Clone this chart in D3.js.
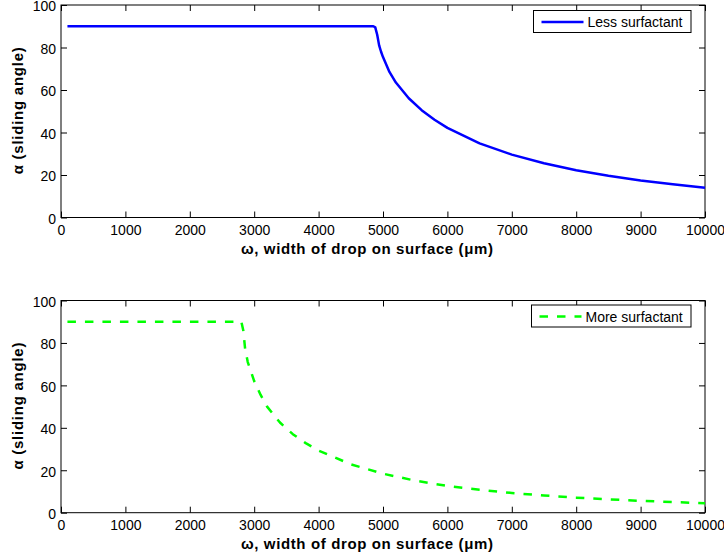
<!DOCTYPE html>
<html>
<head>
<meta charset="utf-8">
<script src="https://cdn.jsdelivr.net/npm/d3@7"></script>
<style>
  html, body { margin: 0; padding: 0; background: #fff; }
  svg { display: block; }
  text { font-family: Arial, "Liberation Sans", Helvetica, sans-serif; fill: #000; }
</style>
</head>
<body>
<svg id="chart" width="724" height="556"></svg>
<script>
// Drop width on the surface (µm) and the resulting sliding angle (degrees)
const lessWidth = [100, 4850, 4880, 4910, 4940, 4970, 5000, 5100, 5200, 5400, 5600, 5800, 6000, 6500, 7000, 7500, 8000, 8500, 9000, 9500, 10000];
const lessAngle = [90, 90, 89.5, 86, 81, 78, 75.5, 68.5, 63.5, 56.1, 50.5, 46.0, 42.2, 34.9, 29.6, 25.5, 22.2, 19.6, 17.4, 15.6, 14.0];

const moreWidth = [100, 2800, 2830, 2860, 2900, 3000, 3100, 3200, 3400, 3600, 3800, 4000, 4500, 5000, 5500, 6000, 6500, 7000, 7500, 8000, 8500, 9000, 9500, 10000];
const moreAngle = [90, 90, 86, 77, 71, 62, 55.5, 50, 42.5, 37, 32.8, 29.3, 22.8, 18.4, 15.1, 12.6, 10.8, 9.3, 8.1, 7.1, 6.3, 5.6, 5.0, 4.5];

const xTicks = [0, 1000, 2000, 3000, 4000, 5000, 6000, 7000, 8000, 9000, 10000];
const yTicks = [0, 20, 40, 60, 80, 100];

const xLabel = "ω, width of drop on surface (μm)";
const yLabel = "α (sliding angle)";

const svg = d3.select("#chart");

function panel(cfg) {
  const x = d3.scaleLinear().domain([0, 10000]).range([61, 705]);
  const y = d3.scaleLinear().domain([0, 100]).range([cfg.bottom, cfg.top]);
  const g = svg.append("g");

  // box frame
  g.append("rect")
    .attr("x", x(0)).attr("y", y(100))
    .attr("width", x(10000) - x(0)).attr("height", y(0) - y(100))
    .attr("fill", "none").attr("stroke", "#000").attr("stroke-width", 1);

  const axisStyle = sel => {
    sel.select(".domain").remove();
    sel.selectAll(".tick line").attr("stroke", "#000").attr("stroke-width", 1);
    sel.selectAll("text").attr("font-size", "14px").attr("fill", "#000").attr("font-family", "Arial, 'Liberation Sans', sans-serif");
  };

  g.append("g").attr("transform", `translate(0,${y(0)})`)
    .call(d3.axisBottom(x).tickValues(xTicks).tickSize(-6).tickPadding(7.5).tickFormat(d3.format("d")))
    .call(axisStyle);
  g.append("g").attr("transform", `translate(0,${y(100)})`)
    .call(d3.axisTop(x).tickValues(xTicks).tickSize(-6).tickFormat(""))
    .call(axisStyle);
  g.append("g").attr("transform", `translate(${x(0)},0)`)
    .call(d3.axisLeft(y).tickValues(yTicks).tickSize(-6).tickPadding(5).tickFormat(d3.format("d")))
    .call(axisStyle)
    .call(sel => sel.selectAll("text").attr("dy", "0.42em"));
  g.append("g").attr("transform", `translate(${x(10000)},0)`)
    .call(d3.axisRight(y).tickValues(yTicks).tickSize(-6).tickFormat(""))
    .call(axisStyle);

  // curve
  const line = d3.line().x(d => x(d[0])).y(d => y(d[1]));
  g.append("path")
    .datum(d3.zip(cfg.w, cfg.a))
    .attr("d", line)
    .attr("fill", "none")
    .attr("stroke", cfg.color)
    .attr("stroke-width", 2.5)
    .attr("stroke-linejoin", "round")
    .attr("stroke-dasharray", cfg.dash);

  // axis titles
  g.append("text")
    .attr("x", 241)
    .attr("y", y(0) + 36)
    .attr("text-anchor", "start")
    .attr("font-size", "15px").attr("font-weight", "bold")
    .attr("textLength", 252).attr("lengthAdjust", "spacing")
    .text(xLabel);
  g.append("text")
    .attr("transform", `translate(22.5,${(y(0) + y(100)) / 2 + 63}) rotate(-90)`)
    .attr("text-anchor", "start")
    .attr("font-size", "15px").attr("font-weight", "bold")
    .attr("textLength", 127).attr("lengthAdjust", "spacing")
    .text(yLabel);

  // legend
  const lg = g.append("g");
  lg.append("rect")
    .attr("x", cfg.legX).attr("y", cfg.legY)
    .attr("width", 691 - cfg.legX).attr("height", 22)
    .attr("fill", "#fff").attr("stroke", "#000").attr("stroke-width", 1);
  lg.append("line")
    .attr("x1", cfg.legX + 8).attr("x2", cfg.legX + 50)
    .attr("y1", cfg.legY + 11.5).attr("y2", cfg.legY + 11.5)
    .attr("stroke", cfg.color).attr("stroke-width", 2.5)
    .attr("stroke-dasharray", cfg.dash);
  lg.append("text")
    .attr("x", cfg.legX + 54).attr("y", cfg.legY + 16.5)
    .attr("font-size", "14px")
    .text(cfg.name);
}

panel({ top: 5, bottom: 217.5, w: lessWidth, a: lessAngle, color: "#0000ff", dash: null,
        name: "Less surfactant", legX: 533.5, legY: 10.5 });
panel({ top: 300.5, bottom: 512.7, w: moreWidth, a: moreAngle, color: "#00ff00", dash: "8.5,9",
        name: "More surfactant", legX: 531.5, legY: 305 });
</script>
</body>
</html>
